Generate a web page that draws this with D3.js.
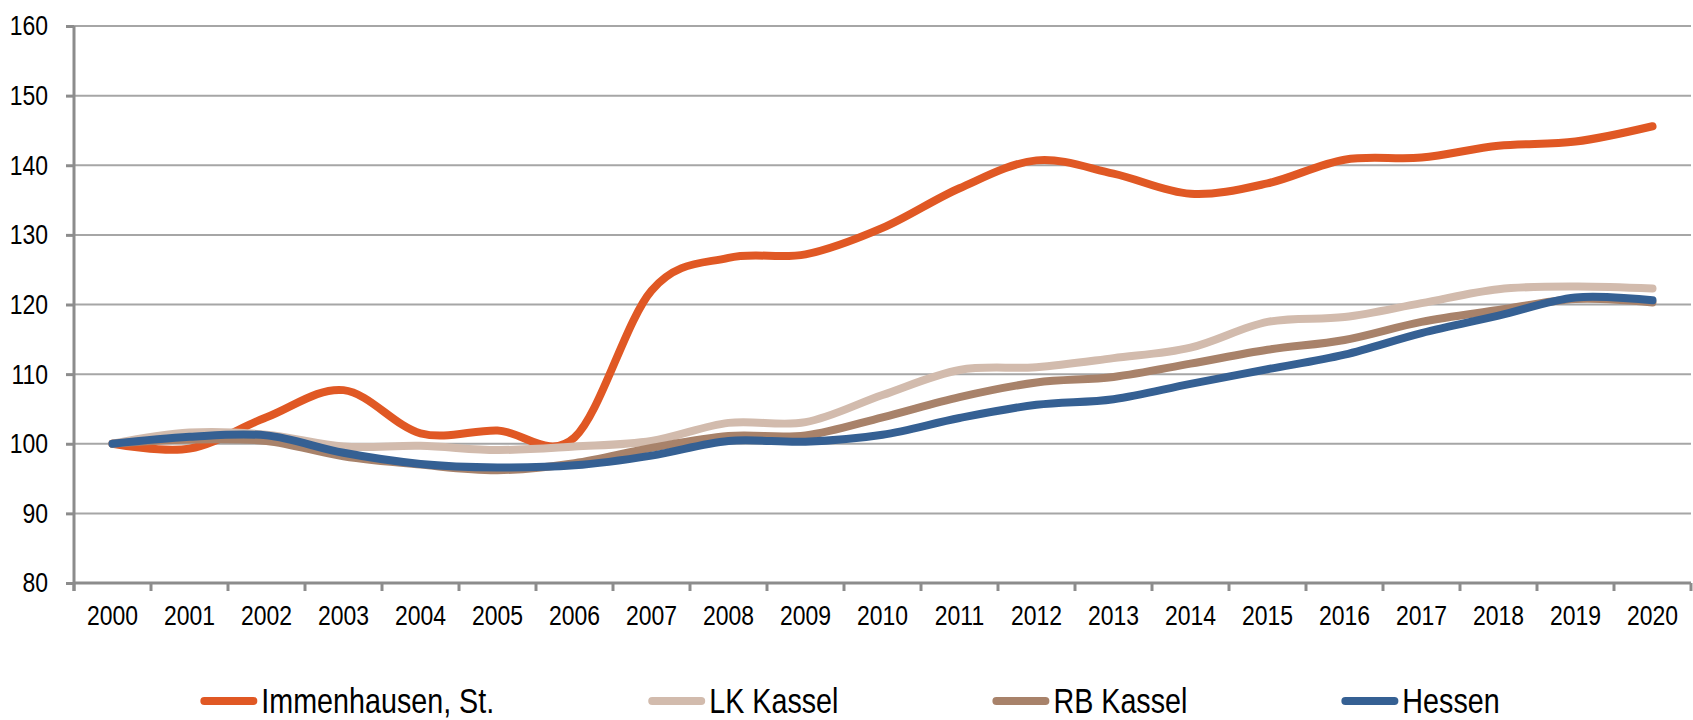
<!DOCTYPE html>
<html>
<head>
<meta charset="utf-8">
<script src="https://cdn.jsdelivr.net/npm/d3@7"></script>
<style>
  html, body { margin: 0; padding: 0; background: #fff; }
  svg text { font-family: "Liberation Sans", Arial, sans-serif; fill: #000; }
</style>
</head>
<body>
<svg id="chart" width="1693" height="720"></svg>
<script>
const years = ["2000","2001","2002","2003","2004","2005","2006","2007","2008","2009","2010","2011","2012","2013","2014","2015","2016","2017","2018","2019","2020"];
const seriesNames = ["Immenhausen, St.", "LK Kassel", "RB Kassel", "Hessen"];
const immenhausen = [100, 99.3, 103.8, 107.7, 101.5, 101.9, 100.9, 122.0, 126.7, 127.2, 131.0, 136.7, 140.7, 138.8, 135.9, 137.4, 140.8, 141.1, 142.8, 143.4, 145.6];
const lkKassel    = [100, 101.6, 101.3, 99.6, 99.7, 99.1, 99.6, 100.4, 103.0, 103.1, 107.0, 110.6, 111.0, 112.3, 113.8, 117.5, 118.2, 120.2, 122.2, 122.6, 122.3];
const rbKassel    = [100, 100.6, 100.4, 98.2, 97.0, 96.2, 97.2, 99.4, 101.1, 101.2, 103.8, 106.7, 108.8, 109.6, 111.5, 113.5, 114.9, 117.5, 119.2, 120.8, 120.3];
const hessen      = [100, 101.0, 101.2, 98.7, 97.1, 96.6, 96.9, 98.3, 100.4, 100.3, 101.3, 103.7, 105.6, 106.4, 108.6, 110.7, 112.8, 115.9, 118.4, 121.0, 120.6];
const yTicks = [80, 90, 100, 110, 120, 130, 140, 150, 160];
const colors = ["#E05824", "#D2BBAD", "#A8826A", "#356093"];

const seriesValues = [immenhausen, lkKassel, rbKassel, hessen];

const svg = d3.select("#chart");
const mLeft = 74, mRight = 1691, mTop = 26, mBottom = 583;
const narrow = 0.82;

const x = d3.scaleBand().domain(years).range([mLeft, mRight]).padding(0);
const y = d3.scaleLinear().domain([80, 160]).range([mBottom, mTop]);

// gridlines
svg.append("g")
  .selectAll("line")
  .data(yTicks.filter(d => d !== 80))
  .join("line")
  .attr("x1", mLeft).attr("x2", mRight)
  .attr("y1", d => y(d)).attr("y2", d => y(d))
  .attr("stroke", "#a6a6a6").attr("stroke-width", 2);

// y axis
const yAxis = svg.append("g")
  .attr("transform", `translate(${mLeft},0)`)
  .call(d3.axisLeft(y).tickValues(yTicks).tickSize(8).tickPadding(18).tickFormat(d3.format("d")));
yAxis.select(".domain").attr("stroke", "#8c8c8c").attr("stroke-width", 3).attr("d", `M0,${mTop}V${mBottom + 8}`);
yAxis.selectAll(".tick line").attr("stroke", "#8c8c8c").attr("stroke-width", 3);
yAxis.selectAll(".tick text")
  .attr("font-size", 28).attr("fill", "#000")
  .attr("x", 0)
  .attr("transform", `translate(-26,0) scale(${narrow},1)`);

// x axis
const xAxis = svg.append("g")
  .attr("transform", `translate(0,${mBottom})`)
  .call(d3.axisBottom(x).tickSize(0).tickPadding(22));
xAxis.select(".domain").attr("stroke", "#8c8c8c").attr("stroke-width", 3).attr("d", `M${mLeft},0H${mRight}`);
xAxis.selectAll(".tick text")
  .attr("font-size", 28).attr("fill", "#000")
  .attr("transform", `scale(${narrow},1)`);
// tick marks at band boundaries
svg.append("g").selectAll("line")
  .data(years.map((d, i) => i).concat([years.length]))
  .join("line")
  .attr("x1", i => mLeft + x.step() * i).attr("x2", i => mLeft + x.step() * i)
  .attr("y1", mBottom).attr("y2", mBottom + 8)
  .attr("stroke", "#8c8c8c").attr("stroke-width", 3);

// lines
const line = d3.line()
  .x((d, i) => x(years[i]) + x.bandwidth() / 2)
  .y(d => y(d))
  .curve(d3.curveCatmullRom.alpha(0));

svg.append("g").selectAll("path")
  .data(seriesValues)
  .join("path")
  .attr("d", d => line(d))
  .attr("fill", "none")
  .attr("stroke", (d, i) => colors[i])
  .attr("stroke-width", 8)
  .attr("stroke-linecap", "round")
  .attr("stroke-linejoin", "round");

// legend
const legend = svg.append("g");
const items = legend.selectAll("g").data(seriesNames).join("g");
items.append("line")
  .attr("x1", 4).attr("x2", 53).attr("y1", 0).attr("y2", 0)
  .attr("stroke", (d, i) => colors[i]).attr("stroke-width", 8).attr("stroke-linecap", "round");
items.append("text")
  .attr("transform", `translate(61,12) scale(${narrow},1)`)
  .attr("font-size", 35)
  .text(d => d);
const gap = 154;
const widths = [];
items.each(function () { widths.push(61 + narrow * d3.select(this).select("text").node().getComputedTextLength()); });
const total = d3.sum(widths) + gap * (widths.length - 1);
let cx = 850 - total / 2;
items.attr("transform", (d, i) => {
  const t = `translate(${cx},701)`;
  cx += widths[i] + gap;
  return t;
});
</script>
</body>
</html>
